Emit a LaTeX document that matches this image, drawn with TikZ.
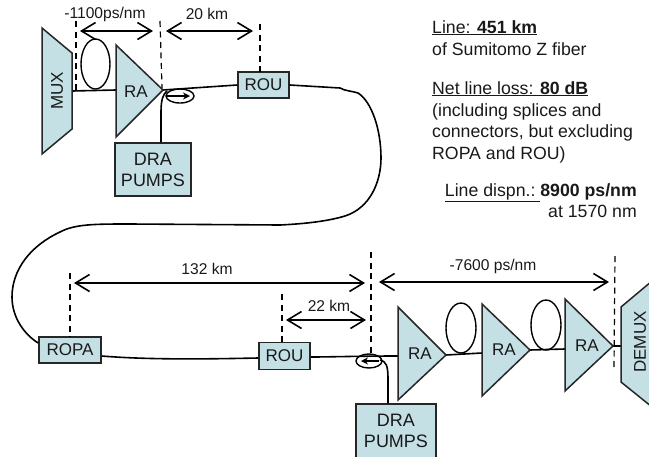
\documentclass[tikz,border=0pt]{standalone}
\usepackage{fontspec}
\setmainfont{Liberation Sans}
\usetikzlibrary{arrows.meta}
\definecolor{boxfill}{RGB}{196,224,229}
\tikzset{
 x=1pt,y=-1pt,
 every node/.style={font=\fontsize{15.6}{18}\selectfont,text=black!90,inner sep=0pt},
 blk/.style={draw=black!85,line width=1.5pt,fill=boxfill,line join=miter},
 fiber/.style={draw=black,line width=1.6pt},
 dashline/.style={draw=black,line width=1.2pt,dash pattern=on 6pt off 4.5pt},
 dim/.style={draw=black,line width=1.6pt,{Straight Barb[length=14pt,width=17pt]}-{Straight Barb[length=14pt,width=17pt]}},
 rect/.style={blk,rectangle,anchor=center,align=center,font=\fontsize{17}{21}\selectfont},
 partlabel/.style={font=\fontsize{17}{21}\selectfont},
 info/.style={anchor=base west,font=\fontsize{17.7}{21}\selectfont},
 infor/.style={anchor=base east,font=\fontsize{17.7}{21}\selectfont},
 loopring/.style={draw=black,line width=1.4pt},
 tap/.style={-{Stealth[length=7pt,width=7pt]},draw=black,line width=1.3pt}
}
\begin{document}
\begin{tikzpicture}
\useasboundingbox (0,0) rectangle (649,456);
% fibers
\coordinate (ra1tip) at (163,90);
\coordinate (ra2tip) at (446,355);
\coordinate (ra3tip) at (530,350);
\coordinate (ra4tip) at (613,346);
\node[rect,minimum width=51pt,minimum height=26pt] (rou1) at (263.5,85) {ROU};
\node[rect,minimum width=62pt,minimum height=26pt] (ropa) at (70,350) {ROPA};
\node[rect,minimum width=51pt,minimum height=27pt] (rou2) at (284.5,356) {ROU};
\node[rect,minimum width=76pt,minimum height=53pt,font=\fontsize{18}{21}\selectfont] (dra1) at (153,169.5) {DRA\\PUMPS};
\node[rect,minimum width=80pt,minimum height=54pt,font=\fontsize{18}{21}\selectfont] (dra2) at (396,431) {DRA\\PUMPS};
\draw[fiber] (72,91) -- (116,90);
\draw[fiber] (ra1tip) -- (rou1.west);
\draw[fiber] (rou1.east) -- (340,88) .. controls (345,91) and (352,91) .. (358,93)
  .. controls (372,102) and (381,130) .. (381,158)
  .. controls (381,182) and (370,208) .. (345,216) .. controls (325,222) and (300,224) .. (280,225)
  -- (130,224) .. controls (95,224) and (75,224) .. (60,232)
  .. controls (30,246) and (12,270) .. (12,297) .. controls (12,318) and (25,335) .. (ropa.west|-0,343);
\draw[fiber] (ropa.east|-0,356) .. controls (150,360) and (210,359) .. (rou2.west|-0,358);
\draw[fiber] (rou2.east|-0,357) .. controls (330,357) and (360,356) .. (398,356);
\draw[fiber] (ra2tip) -- (482,353);
\draw[fiber] (ra3tip) -- (565,349);
\draw[fiber] (ra4tip) -- (621,346);
\draw[fiber] (dra1.north-|161,0) -- (161,112) .. controls (161,100) and (163,94) .. (167,91);
\draw[fiber] (dra2.north-|388,0) -- (388,378) .. controls (388,366) and (386,361) .. (380,360);
% loops
\draw[loopring] (95.5,64) ellipse (14.5 and 25);
\draw[loopring] (461,328) ellipse (15 and 25);
\draw[loopring] (546,325) ellipse (15 and 25);
% amplifiers and mux
\draw[blk] (42,28) -- (72,53) -- (72,129) -- (42,154) -- cycle;
\node[rotate=90,partlabel] (mux) at (57,91) {MUX};
\draw[blk] (116,45) -- (ra1tip) -- (116,137) -- cycle;
\node[partlabel] (ra1) at (136,92) {RA};
\draw[blk] (398,307) -- (ra2tip) -- (398,400) -- cycle;
\node[partlabel] (ra2) at (420,354) {RA};
\draw[blk] (482,304) -- (ra3tip) -- (482,396) -- cycle;
\node[partlabel] (ra3) at (504,350) {RA};
\draw[blk] (565,299) -- (ra4tip) -- (565,391) -- cycle;
\node[partlabel] (ra4) at (587,346) {RA};
\draw[blk] (652,281) -- (621,307) -- (621,382) -- (652,407);
\node[rotate=90,partlabel] (demux) at (640,342) {DEMUX};
% couplers
\draw[loopring] (180,96) ellipse (14 and 7);
\draw[tap] (167,96) -- (190,96);
\draw[loopring] (369,361) ellipse (13 and 7);
\draw[tap] (379,361) -- (361,361);
% dashed markers
\draw[dashline] (76,21) -- (76,92);
\draw[dashline] (160,21) -- (162,88);
\draw[dashline] (260,24) -- (260,72);
\draw[dashline] (70,273) -- (70,337);
\draw[dashline] (282,294) -- (282,342);
\draw[dashline] (371,252) -- (371,355);
\draw[dashline] (615,256) -- (614,368);
% dimension arrows
\draw[dim] (80,31) -- (153,31);
\draw[dim] (166,31) -- (253,31);
\draw[dim] (74,283) -- (365,283);
\draw[dim] (286,320) -- (366,320);
\draw[dim] (379,282) -- (609,282);
\node (l1) at (105,14) {-1100ps/nm};
\node (l2) at (207,14) {20 km};
\node (l3) at (207,269) {132 km};
\node (l4) at (329,306) {22 km};
\node (l5) at (493,266) {-7600 ps/nm};
% notes
\node[info] (n1) at (432,33) {\underline{Line: \textbf{451 km}}};
\node[info] (n2) at (432,55) {of Sumitomo Z fiber};
\node[info] (n3) at (432,94) {\underline{Net line loss: \textbf{80 dB}}};
\node[info] (n4) at (432,116) {(including splices and};
\node[info] (n5) at (432,137) {connectors, but excluding};
\node[info] (n6) at (432,159) {ROPA and ROU)};
\node[infor] (n7) at (637,196) {\underline{Line dispn.:\ }\textbf{8900 ps/nm}};
\node[infor] (n8) at (637,217) {at 1570 nm};
\end{tikzpicture}
\end{document}
